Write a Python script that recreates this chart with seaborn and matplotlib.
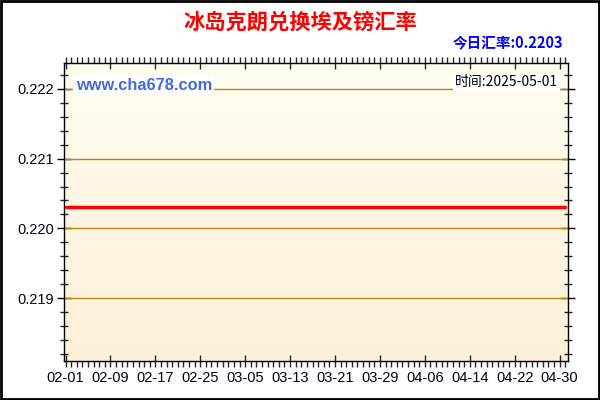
import numpy as np
import pandas as pd
import matplotlib
matplotlib.use("Agg")
import matplotlib.pyplot as plt
import matplotlib.dates as mdates
from matplotlib.patches import Rectangle
import seaborn as sns

# ---- data ----
title = "冰岛克朗兑换埃及镑汇率"
today_label = "今日汇率:0.2203"
site_label = "www.cha678.com"
time_label = "时间:2025-05-01"
dates = ["2025-02-01", "2025-02-09", "2025-02-17", "2025-02-25", "2025-03-05",
         "2025-03-13", "2025-03-21", "2025-03-29", "2025-04-06", "2025-04-14",
         "2025-04-22", "2025-04-30", "2025-05-01"]
rates = [0.2203, 0.2203, 0.2203, 0.2203, 0.2203, 0.2203, 0.2203,
         0.2203, 0.2203, 0.2203, 0.2203, 0.2203, 0.2203]
tick_dates = ["2025-02-01", "2025-02-09", "2025-02-17", "2025-02-25", "2025-03-05",
              "2025-03-13", "2025-03-21", "2025-03-29", "2025-04-06", "2025-04-14",
              "2025-04-22", "2025-04-30"]
y_ticks = [0.219, 0.220, 0.221, 0.222]

df = pd.DataFrame({"date": pd.to_datetime(dates), "rate": rates})

sns.set_style("white")
plt.rcParams["font.family"] = ["Liberation Sans", "Noto Sans CJK SC", "DejaVu Sans"]

fig = plt.figure(figsize=(6, 4), dpi=100)
ax = fig.add_axes([64/600, 1-361/400, (568-64)/600, (361-63)/400])

# gradient background
grad = np.linspace(0, 1, 256).reshape(-1, 1)
top_c = np.array([0xFF, 0xFD, 0xF0]) / 255
bot_c = np.array([0xFD, 0xF0, 0xD8]) / 255
img = top_c[None, None, :] * (1 - grad[..., None]) + bot_c[None, None, :] * grad[..., None]
ax.imshow(img, aspect="auto", extent=[0, 1, 0, 1], transform=ax.transAxes, zorder=0)

for yv in y_ticks:
    ax.axhline(yv, color="#b8860b", lw=1, zorder=1)

sns.lineplot(data=df, x="date", y="rate", ax=ax, color="#ff0000", lw=2.5, zorder=3)

x0 = mdates.date2num(pd.Timestamp("2025-02-01")) - 0.27
x1 = mdates.date2num(pd.Timestamp("2025-05-01")) + 0.5
ax.set_xlim(x0, x1)
ax.set_ylim(0.21810, 0.22237)

ax.set_xticks([mdates.date2num(pd.Timestamp(d)) for d in tick_dates])
ax.set_xticklabels([d[5:] for d in tick_dates])
ax.xaxis.set_minor_locator(mdates.DayLocator())
ax.set_yticks(y_ticks)
ax.set_yticklabels([f"{v:.3f}" for v in y_ticks])
ax.yaxis.set_minor_locator(matplotlib.ticker.MultipleLocator(0.0002))
ax.set_xlabel("")
ax.set_ylabel("")

for s in ax.spines.values():
    s.set_color("black")
    s.set_linewidth(1)
    s.set_visible(True)

ax.tick_params(axis="y", which="major", direction="inout", length=10, width=1,
               labelsize=10.5, colors="black", left=True, right=True, pad=2)
ax.tick_params(axis="y", which="minor", direction="inout", length=6, width=1,
               left=True, right=True)
ax.tick_params(axis="x", which="major", direction="inout", length=8, width=1,
               labelsize=10.5, bottom=True, top=True, pad=3)
ax.tick_params(axis="x", which="minor", direction="out", length=4, width=1,
               bottom=True, top=True)
for lbl in ax.get_xticklabels() + ax.get_yticklabels():
    lbl.set_color("#000020")

ax.text(0.023, 0.925, site_label, transform=ax.transAxes, color="#4169e1",
        fontsize=11.8, fontweight="bold", va="center", ha="left", zorder=5,
        bbox=dict(facecolor="white", edgecolor="none", pad=1.5))
ax.text(0.98, 0.935, time_label, transform=ax.transAxes, color="black",
        fontsize=10, va="center", ha="right", zorder=5,
        family=["Noto Sans CJK SC", "DejaVu Sans"],
        bbox=dict(facecolor="white", edgecolor="none", pad=1.5))

fig.text(0.5, 1-22/400, title, color="#ff0000", fontsize=15.3, fontweight="bold",
         ha="center", va="center", family=["Noto Sans CJK SC", "DejaVu Sans"])
fig.text(563/600, 1-43/400, today_label, color="#0000ff", fontsize=10.5,
         fontweight="bold", ha="right", va="center",
         family=["Noto Sans CJK SC", "DejaVu Sans"])

fig.patches.append(Rectangle((0.0015, 0.002), 0.997, 0.996, transform=fig.transFigure,
                             fill=False, edgecolor="black", lw=2))

fig.savefig("out.png", dpi=100)
